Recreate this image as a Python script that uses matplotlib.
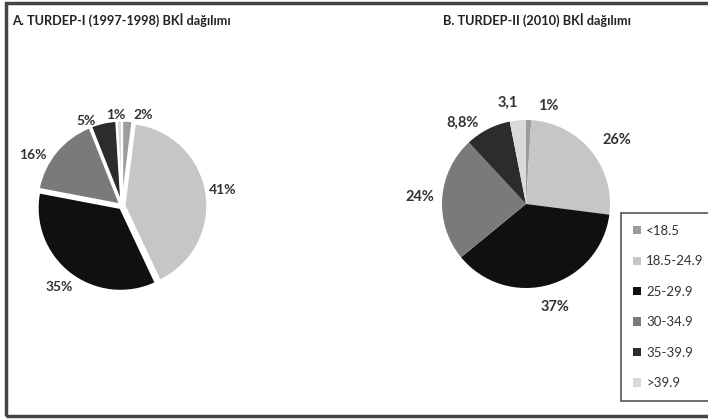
import numpy as np
import matplotlib.pyplot as plt
from matplotlib.patches import Rectangle

plt.rcParams['font.family'] = ['Lato', 'DejaVu Sans']

categories = ['<18.5', '18.5-24.9', '25-29.9', '30-34.9', '35-39.9', '>39.9']
colors = ['#9c9c9c', '#c6c6c6', '#101010', '#7a7a7a', '#2c2c2c', '#dadada']

vals_a = [2, 41, 35, 16, 5, 1]
labels_a = ['2%', '41%', '35%', '16%', '5%', '1%']
vals_b = [1, 26, 37, 24, 8.8, 3.1]
labels_b = ['1%', '26%', '37%', '24%', '8,8%', '3,1']

title_a = 'A. TURDEP-I (1997-1998) BKİ dağılımı'
title_b = 'B. TURDEP-II (2010) BKİ dağılımı'

W, H = 708, 419
fig = plt.figure(figsize=(W / 100, H / 100), dpi=100)


def pie_axes(cx, cy, r):
    return fig.add_axes([(cx - r) / W, 1 - (cy + r) / H, 2 * r / W, 2 * r / H])


def move_labels(texts, moves):
    # small slices: put label at a given angle/distance so they do not collide
    for i, (ang, d) in moves.items():
        a = np.deg2rad(ang)
        texts[i].set_position((d * np.cos(a), d * np.sin(a)))


# A
ax1 = pie_axes(122, 206, 87)
w1, t1 = ax1.pie(vals_a, labels=labels_a, colors=colors, startangle=90,
                 counterclock=False, explode=[0.03] * 6, labeldistance=1.2,
                 wedgeprops=dict(edgecolor='white', linewidth=1.5),
                 textprops=dict(fontsize=10, color='#333333', fontweight='bold'))
for t in t1:
    t.set_ha('center')
    t.set_va('center')
move_labels(t1, {0: (77, 1.13), 4: (113, 1.12), 5: (94, 1.1), 3: (150, 1.24)})
ax1.set_xlim(-1.05, 1.05)
ax1.set_ylim(-1.05, 1.05)
ax1.set_aspect('equal')

# B
ax2 = pie_axes(526, 204, 84)
w2, t2 = ax2.pie(vals_b, labels=labels_b, colors=colors, startangle=90,
                 counterclock=False, labeldistance=1.27,
                 wedgeprops=dict(edgecolor='none'),
                 textprops=dict(fontsize=10.5, color='#333333', fontweight='bold'))
for t in t2:
    t.set_ha('center')
    t.set_va('center')
move_labels(t2, {0: (77, 1.2), 4: (128, 1.22), 5: (100, 1.22), 1: (35, 1.32)})
ax2.set_xlim(-1, 1)
ax2.set_ylim(-1, 1)
ax2.set_aspect('equal')

fig.text(12 / W, 1 - 20 / H, title_a, fontsize=9.2, fontweight='bold',
         color='#222222', va='center')
fig.text(443 / W, 1 - 20 / H, title_b, fontsize=9.2, fontweight='bold',
         color='#222222', va='center')

leg = fig.legend(w2, categories, loc='upper left', bbox_to_anchor=(621 / W, 1 - 213 / H),
                 borderaxespad=0, fontsize=9.5, labelspacing=1.4, handlelength=0.6,
                 handleheight=0.6, handletextpad=0.4, fancybox=False, framealpha=1,
                 edgecolor='#555555', borderpad=0.9)
leg.get_frame().set_linewidth(1.2)
for txt in leg.get_texts():
    txt.set_color('#333333')

fig.patches.append(Rectangle((6 / W, 3 / H), 1.0, 1 - 6 / H, transform=fig.transFigure,
                             fill=False, edgecolor='#444444', linewidth=2.5))

fig.savefig('out.png', dpi=100)
